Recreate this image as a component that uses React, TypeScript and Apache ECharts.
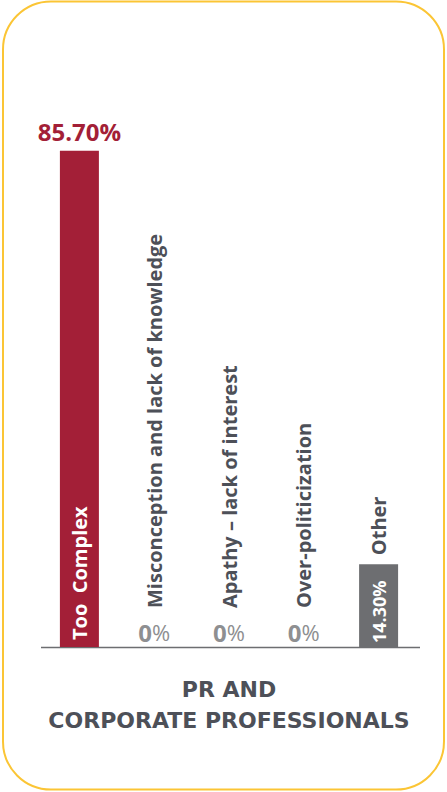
import React, { useEffect, useRef } from "react";
import * as echarts from "echarts";

const categories = [
  "Too  Complex",
  "Misconception and lack of knowledge",
  "Apathy – lack of interest",
  "Over-politicization",
  "Other",
];
const values = [85.7, 0, 0, 0, 14.3];
const valueLabels = ["85.70%", "0%", "0%", "0%", "14.30%"];
const titleLines = ["PR AND", "CORPORATE PROFESSIONALS"];

const CRIMSON = "#A31F37";
const GRAY_BAR = "#6D6E71";
const DARK = "#4D5058";
const LIGHT = "#8E8F91";
const FONT = "'Open Sans', 'DejaVu Sans', sans-serif";
const TITLE_FONT = "'DejaVu Sans', sans-serif";

export default function App() {
  const ref = useRef<HTMLDivElement>(null);
  useEffect(() => {
    document.body.style.margin = "0";
    const chart = echarts.init(ref.current!, null, { renderer: "svg" });
    const barColors = [CRIMSON, GRAY_BAR, GRAY_BAR, GRAY_BAR, GRAY_BAR];

    const valueData = values.map((v, i) => {
      let label: any;
      if (i === 0) {
        label = {
          show: true,
          position: "top",
          distance: 7,
          formatter: valueLabels[i],
          color: CRIMSON,
          fontSize: 24,
          fontWeight: "bold",
          fontFamily: FONT,
        };
      } else if (i === values.length - 1) {
        label = {
          show: true,
          position: "insideBottom",
          rotate: 90,
          align: "left",
          verticalAlign: "middle",
          distance: 4,
          formatter: valueLabels[i],
          color: "#ffffff",
          fontSize: 18,
          fontWeight: "bold",
          fontFamily: FONT,
        };
      } else {
        label = {
          show: true,
          position: "top",
          distance: 3,
          formatter: "{a|0}{b|%}",
          rich: {
            a: { color: LIGHT, fontSize: 24, fontWeight: "bold", fontFamily: FONT },
            b: { color: LIGHT, fontSize: 22, fontWeight: "normal", fontFamily: FONT },
          },
        };
      }
      return { value: v, itemStyle: { color: barColors[i] }, label };
    });

    const nameData = values.map((v, i) => {
      let label: any;
      if (i === 0) {
        label = {
          show: true,
          position: "insideBottom",
          rotate: 90,
          align: "left",
          verticalAlign: "middle",
          distance: 7,
          formatter: categories[i],
          color: "#ffffff",
          fontSize: 20,
          fontWeight: "bold",
          fontFamily: FONT,
        };
      } else {
        label = {
          show: true,
          position: "top",
          rotate: 90,
          align: "left",
          verticalAlign: "middle",
          distance: i === values.length - 1 ? 9 : 39,
          formatter: categories[i],
          color: DARK,
          fontSize: 20,
          fontWeight: "bold",
          fontFamily: FONT,
        };
      }
      return { value: v, itemStyle: { color: "rgba(0,0,0,0)" }, label };
    });

    chart.setOption({
      animation: false,
      grid: { left: 42, width: 374, top: 68, bottom: 145 },
      xAxis: {
        type: "category",
        data: categories,
        axisLine: { show: false },
        axisTick: { show: false },
        axisLabel: { show: false },
      },
      yAxis: {
        type: "value",
        min: 0,
        max: 100,
        show: false,
        splitLine: { show: false },
      },
      title: {
        text: titleLines.join("\n"),
        left: 224,
        top: 669,
        textAlign: "center",
        textStyle: {
          color: DARK,
          fontSize: 22,
          fontWeight: "bold",
          fontFamily: TITLE_FONT,
          lineHeight: 31,
        },
      },
      graphic: [
        {
          type: "rect",
          shape: { x: 3, y: 1.5, width: 441, height: 788, r: 48 },
          style: { fill: "none", stroke: "#FBC535", lineWidth: 2 },
          silent: true,
        },
        {
          type: "line",
          shape: { x1: 41, y1: 647.5, x2: 420, y2: 647.5 },
          style: { stroke: "#6D6E71", lineWidth: 1.5 },
          silent: true,
        },
      ],
      series: [
        {
          type: "bar",
          data: valueData,
          barWidth: 39,
          barGap: "-100%",
          z: 2,
        },
        {
          type: "bar",
          data: nameData,
          barWidth: 39,
          barGap: "-100%",
          z: 3,
        },
      ],
    });
    return () => chart.dispose();
  }, []);
  return (
    <div
      ref={ref}
      style={{ position: "absolute", left: 0, top: 0, width: 447, height: 792, background: "#fff" }}
    />
  );
}
